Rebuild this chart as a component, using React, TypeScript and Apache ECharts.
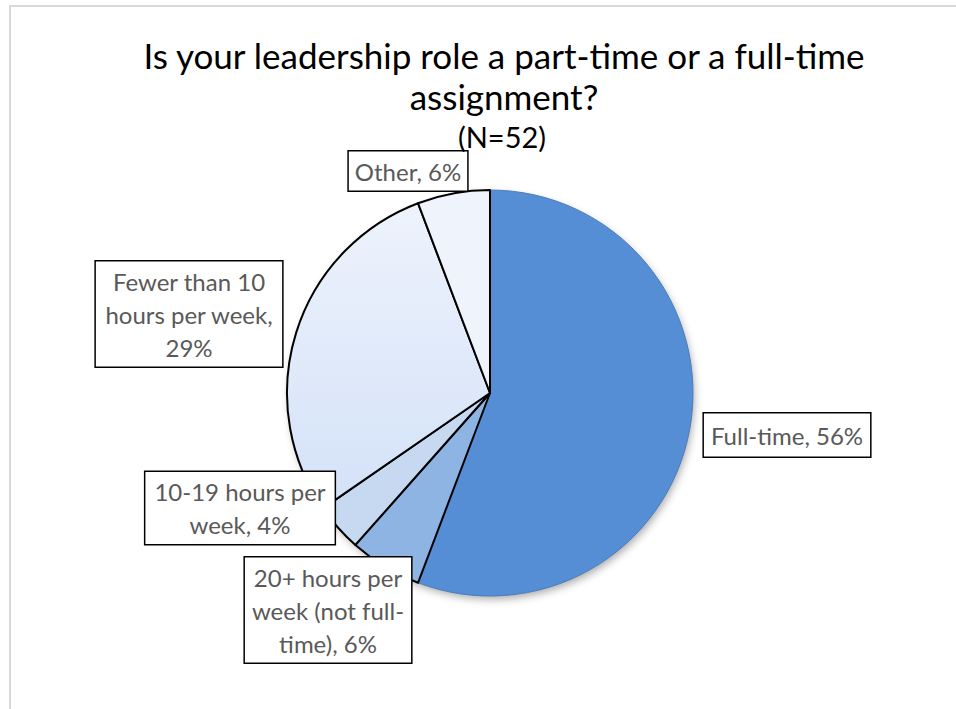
import React, { useEffect, useRef } from "react";
import * as echarts from "echarts";

const categories = [
  "Full-time",
  "20+ hours per week (not full-time)",
  "10-19 hours per week",
  "Fewer than 10 hours per week",
  "Other",
];
const labelTexts = [
  "Full-time, 56%",
  "20+ hours per\nweek (not full-\ntime), 6%",
  "10-19 hours per\nweek, 4%",
  "Fewer than 10\nhours per week,\n29%",
  "Other, 6%",
];
const counts = [29, 3, 2, 15, 3];
const titleLines = ["Is your leadership role a part-time or a full-time", "assignment?"];
const subtitleText = "(N=52)";

// label box centres (layout, not data)
const labelCenters = [
  [787, 435],
  [328, 610],
  [240, 508],
  [189, 314],
  [408, 171],
];

export default function App() {
  const ref = useRef<HTMLDivElement>(null);
  useEffect(() => {
    if (!ref.current) return;
    const chart = echarts.init(ref.current, null, { renderer: "svg" });
    const fills: any[] = [
      "#558ED5",
      "#8EB4E3",
      "#C6D9F1",
      new echarts.graphic.LinearGradient(0, 0, 0, 1, [
        { offset: 0, color: "#EEF3FC" },
        { offset: 1, color: "#D3E1F8" },
      ]),
      "#EEF3FC",
    ];
    const borders = ["#4A7EBB", "#000", "#000", "#000", "#000"];
    const borderW = [1, 2, 2, 2, 2];
    const pads = [
      [5, 7],
      [3, 7],
      [3, 9],
      [3, 9],
      [3, 6],
    ];
    chart.setOption({
      animation: false,
      backgroundColor: "#fff",
      title: [
        {
          text: titleLines.join("\n"),
          left: 499,
          textAlign: "center",
          top: 29,
          textStyle: {
            fontFamily: "Lato",
            fontSize: 35,
            fontWeight: "normal",
            color: "#000",
            lineHeight: 41,
          },
        },
        {
          text: subtitleText,
          left: 497,
          textAlign: "center",
          top: 117,
          textStyle: {
            fontFamily: "Lato",
            fontSize: 29,
            fontWeight: "normal",
            color: "#000",
          },
        },
      ],
      graphic: [
        {
          type: "rect",
          shape: { x: 10, y: 6, width: 1000, height: 1000 },
          style: { fill: "none", stroke: "#D9D9D9", lineWidth: 2 },
          silent: true,
          z: 0,
        },
        {
          type: "circle",
          shape: { cx: 490, cy: 393, r: 202 },
          style: {
            fill: "#fff",
            shadowBlur: 8,
            shadowOffsetX: 2,
            shadowOffsetY: 4,
            shadowColor: "rgba(0,0,0,0.35)",
          },
          silent: true,
          z: 0,
        },
      ],
      series: [
        {
          type: "pie",
          z: 5,
          center: [490, 393],
          radius: 203,
          startAngle: 90,
          clockwise: true,
          label: {
            show: true,
            position: "outside",
            fontFamily: "Lato",
            fontSize: 24,
            lineHeight: 33,
            color: "#595959",
            backgroundColor: "#fff",
            borderColor: "#000",
            borderWidth: 1.5,
            align: "center",
          },
          labelLine: { show: false },
          labelLayout: (p: any) => {
            const c = labelCenters[p.dataIndex];
            return { x: c[0], y: c[1], align: "center", verticalAlign: "middle" };
          },
          emphasis: { disabled: true },
          data: categories.map((name, i) => ({
            name,
            value: counts[i],
            itemStyle: { color: fills[i], borderColor: borders[i], borderWidth: borderW[i] },
            label: { formatter: labelTexts[i], padding: pads[i] },
          })),
        },
      ],
    });
    return () => chart.dispose();
  }, []);
  return (
    <div
      ref={ref}
      style={{ position: "fixed", left: 0, top: 0, width: 956, height: 709 }}
    />
  );
}
